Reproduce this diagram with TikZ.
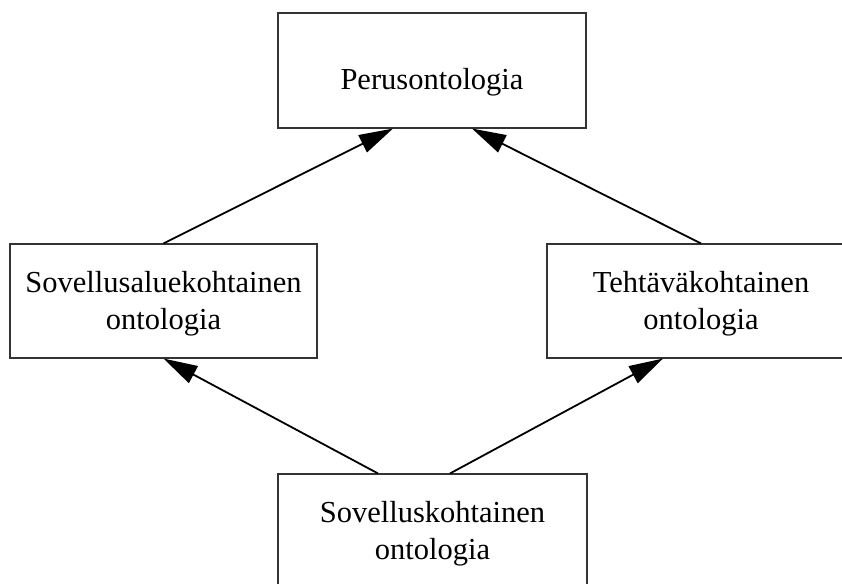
\documentclass[tikz,border=0pt]{standalone}
\usepackage{fontspec}
\setmainfont{Liberation Serif}
\usetikzlibrary{arrows.meta}

\tikzset{
  ontbox/.style={draw=black!80, line width=1.1pt, rectangle, inner sep=0pt,
    font=\fontsize{30.5}{36.6}\selectfont, align=center},
  onebox/.style={ontbox, text height=39pt, text depth=0pt},
  twobox/.style={ontbox, text height=62pt, text depth=6pt},
  isa/.style={draw=black, line width=1.8pt,
    -{Triangle[length=34pt, width=19pt]}}
}

\begin{document}
\begin{tikzpicture}[x=1pt, y=-1pt]
  \clip (0,0) rectangle (842,583);
  \fill[white] (0,0) rectangle (842,583);

  % ontology levels
  \node[onebox, minimum width=308pt, minimum height=115pt] (base) at (432,70.5) {Perusontologia};
  \node[twobox, minimum width=307pt, minimum height=114pt] (domain) at (163.5,301) {Sovellusaluekohtainen\\ontologia};
  \node[twobox, minimum width=308pt, minimum height=114pt] (task) at (701,301) {Tehtäväkohtainen\\ontologia};
  \node[twobox, minimum width=309pt, minimum height=115pt] (app) at (432.5,531.5) {Sovelluskohtainen\\ontologia};

  % specialisation links
  \draw[isa] (domain.north) -- ([xshift=-39pt]base.south);
  \draw[isa] (task.north) -- ([xshift=40pt]base.south);
  \draw[isa] ([xshift=-54.5pt]app.north) -- (domain.south);
  \draw[isa] ([xshift=17.5pt]app.north) -- ([xshift=-38pt]task.south);
\end{tikzpicture}
\end{document}
